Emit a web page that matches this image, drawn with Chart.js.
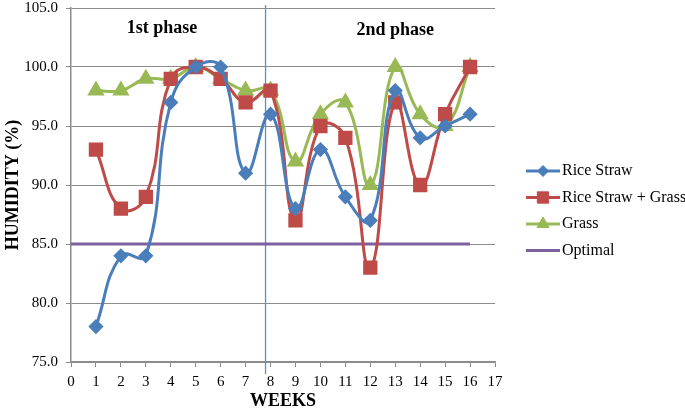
<!DOCTYPE html>
<html>
<head>
<meta charset="utf-8">
<script src="https://cdn.jsdelivr.net/npm/chart.js@4.4.1/dist/chart.umd.min.js"></script>
<style>
  body { margin: 0; background: #fff; }
  #wrap { width: 685px; height: 412px; }
</style>
</head>
<body>
<div id="wrap"><canvas id="myChart"></canvas></div>
<script>
const weeks = [1, 2, 3, 4, 5, 6, 7, 8, 9, 10, 11, 12, 13, 14, 15, 16];
const riceStraw = [78, 84, 84, 97, 100, 100, 91, 96, 88, 93, 89, 87, 98, 94, 95, 96];
const riceStrawGrass = [93, 88, 89, 99, 100, 99, 97, 98, 87, 95, 94, 83, 97, 90, 96, 100];
const grass = [98, 98, 99, 99, 100, 99, 98, 98, 92, 96, 97, 90, 100, 96, 95, 100];
const optimalWeeks = [0, 1, 2, 3, 4, 5, 6, 7, 8, 9, 10, 11, 12, 13, 14, 15, 16];
const optimal = [85, 85, 85, 85, 85, 85, 85, 85, 85, 85, 85, 85, 85, 85, 85, 85, 85];
const yTicks = [75, 80, 85, 90, 95, 100, 105];
const xTicks = [0, 1, 2, 3, 4, 5, 6, 7, 8, 9, 10, 11, 12, 13, 14, 15, 16, 17];
const phaseBoundary = 7.8;
const phaseLabels = [
  { text: '1st phase', x: 3.65, y: 103.3 },
  { text: '2nd phase', x: 13.0, y: 103.1 }
];

const serif = '"Liberation Serif", "Times New Roman", serif';
const toPoints = (xs, ys) => xs.map((x, i) => ({ x: x, y: ys[i] }));

// vertical phase line + phase captions
const phasePlugin = {
  id: 'phases',
  beforeDatasetsDraw(chart) {
    const { ctx, scales: { x, y }, chartArea } = chart;
    const px = x.getPixelForValue(phaseBoundary);
    ctx.save();
    ctx.strokeStyle = '#5B8FCB';
    ctx.lineWidth = 1.3;
    ctx.beginPath();
    ctx.moveTo(px, chartArea.top - 3);
    ctx.lineTo(px, chartArea.bottom + 12);
    ctx.stroke();
    ctx.fillStyle = '#000';
    ctx.font = 'bold 18px ' + serif;
    ctx.textAlign = 'center';
    ctx.textBaseline = 'middle';
    phaseLabels.forEach(p => ctx.fillText(p.text, x.getPixelForValue(p.x), y.getPixelForValue(p.y)));
    ctx.restore();
  }
};

// excel-like legend: line with marker in the middle
const legendPlugin = {
  id: 'sideLegend',
  afterDraw(chart) {
    const { ctx, chartArea } = chart;
    const x0 = chartArea.right + 31;
    let yy = 171;
    ctx.save();
    chart.data.datasets.forEach(ds => {
      ctx.strokeStyle = ds.borderColor;
      ctx.lineWidth = 3;
      ctx.beginPath();
      ctx.moveTo(x0, yy);
      ctx.lineTo(x0 + 34, yy);
      ctx.stroke();
      if (ds.pointRadius > 0) {
        ctx.fillStyle = ds.pointBackgroundColor;
        ctx.strokeStyle = ds.pointBorderColor;
        ctx.lineWidth = 1;
        Chart.helpers.drawPoint(ctx, { pointStyle: ds.pointStyle, radius: ds.pointRadius, borderWidth: 1 }, x0 + 17, yy);
      }
      ctx.fillStyle = '#000';
      ctx.font = '16px ' + serif;
      ctx.textAlign = 'left';
      ctx.textBaseline = 'middle';
      ctx.fillText(ds.label, x0 + 36, yy);
      yy += 26.5;
    });
    ctx.restore();
  }
};

function line(label, color, data, style, radius) {
  return {
    label: label,
    data: data,
    borderColor: color,
    backgroundColor: color,
    pointBackgroundColor: color,
    pointBorderColor: color,
    pointStyle: style,
    pointRadius: radius,
    pointHoverRadius: radius,
    borderWidth: 3,
    tension: 0.45,
    fill: false
  };
}

const ctx = document.getElementById('myChart').getContext('2d');
const myChart = new Chart(ctx, {
  type: 'line',
  data: {
    datasets: [
      line('Rice Straw', '#4A7EBB', toPoints(weeks, riceStraw), 'rectRot', 5.5),
      line('Rice Straw + Grass', '#BE4B48', toPoints(weeks, riceStrawGrass), 'rect', 8),
      line('Grass', '#98B954', toPoints(weeks, grass), 'triangle', 7),
      Object.assign(line('Optimal', '#7D60A0', toPoints(optimalWeeks, optimal), 'circle', 0), { tension: 0 })
    ]
  },
  options: {
    responsive: true,
    maintainAspectRatio: false,
    animation: false,
    layout: { autoPadding: false, padding: { left: 3, right: 190, top: 8, bottom: 0 } },
    plugins: {
      legend: { display: false },
      tooltip: { enabled: false }
    },
    scales: {
      x: {
        type: 'linear',
        min: 0,
        max: 17,
        afterBuildTicks: s => { s.ticks = xTicks.map(v => ({ value: v })); },
        afterFit: s => { s.height = 50; s.paddingLeft = 0; s.paddingRight = 0; },
        grid: { drawOnChartArea: false, drawTicks: true, tickLength: 5, color: '#8C8C8C' },
        border: { color: '#8C8C8C', width: 1.5 },
        ticks: { color: '#000', padding: 6, font: { family: serif, size: 15 } },
        title: { display: true, text: 'WEEKS', color: '#000', padding: 0, font: { family: serif, size: 18, weight: 'bold' } }
      },
      y: {
        min: 75,
        max: 105,
        afterBuildTicks: s => { s.ticks = yTicks.map(v => ({ value: v })); },
        afterFit: s => { s.width = 68; s.paddingTop = 0; s.paddingBottom = 0; },
        grid: { color: '#8C8C8C', tickLength: 5 },
        border: { color: '#8C8C8C', width: 1.5 },
        ticks: { color: '#000', padding: 8, font: { family: serif, size: 15 }, callback: v => v.toFixed(1) },
        title: { display: true, text: 'HUMIDITY (%)', color: '#000', padding: 0, font: { family: serif, size: 18, weight: 'bold' } }
      }
    }
  },
  plugins: [phasePlugin, legendPlugin]
});
</script>
</body>
</html>
